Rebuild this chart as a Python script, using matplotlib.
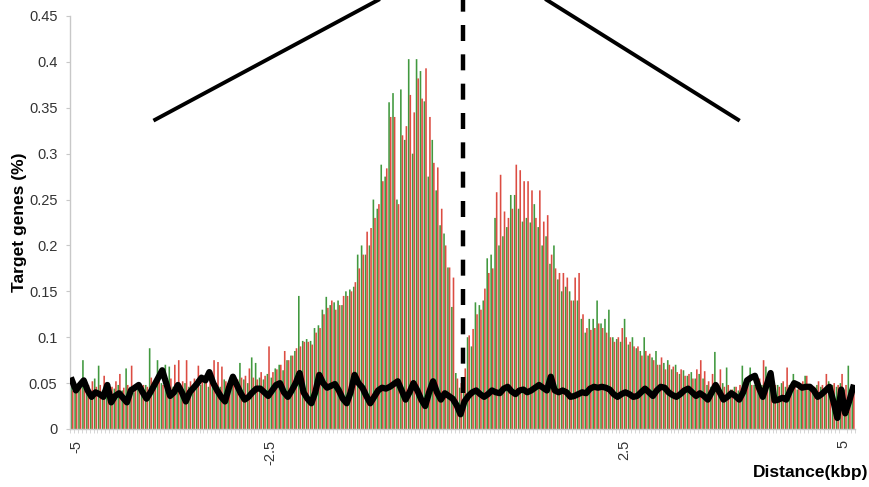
import matplotlib
matplotlib.use('Agg')
import matplotlib.pyplot as plt
import numpy as np

plt.rcParams['font.family'] = ['Liberation Sans', 'DejaVu Sans']

# 200 bins of 50 bp from -5 to +5 kbp
green = [
    .048, .042, .050, .075, .042, .038, .055, .069, .042, .046,
    .040, .044, .048, .042, .066, .046, .040, .050, .044, .048,
    .088, .046, .075, .050, .070, .068, .046, .048, .044, .050,
    .046, .044, .054, .048, .050, .046, .056, .050, .046, .054,
    .050, .056, .048, .072, .054, .050, .078, .072, .056, .054,
    .060, .056, .066, .070, .064, .075, .080, .085, .145, .096,
    .098, .096, .110, .113, .130, .144, .135, .138, .140, .135,
    .150, .152, .155, .190, .200, .190, .200, .250, .240, .288,
    .275, .356, .366, .250, .370, .315, .403, .300, .403, .390,
    .357, .275, .315, .260, .222, .213, .176, .133, .061, .045,
    .050, .100, .090, .138, .135, .140, .186, .190, .230, .200,
    .210, .220, .255, .255, .240, .226, .230, .225, .245, .220,
    .200, .210, .180, .200, .163, .150, .155, .150, .140, .140,
    .120, .105, .120, .120, .140, .115, .120, .130, .100, .098,
    .095, .120, .092, .100, .088, .085, .100, .080, .078, .085,
    .070, .072, .075, .065, .070, .060, .064, .058, .062, .055,
    .060, .055, .048, .046, .084, .048, .050, .067, .043, .046,
    .042, .069, .048, .067, .048, .052, .048, .068, .048, .046,
    .048, .050, .046, .048, .060, .043, .048, .058, .046, .043,
    .048, .046, .043, .052, .048, .046, .050, .043, .069, .048,
]
red = [
    .042, .046, .045, .046, .048, .052, .046, .048, .058, .042,
    .046, .052, .060, .045, .048, .069, .046, .042, .048, .046,
    .056, .052, .056, .048, .052, .055, .070, .075, .052, .075,
    .052, .055, .069, .052, .056, .054, .075, .073, .068, .052,
    .056, .052, .054, .056, .058, .066, .056, .054, .062, .058,
    .090, .062, .065, .070, .085, .075, .080, .088, .090, .095,
    .095, .092, .105, .110, .125, .132, .140, .130, .135, .145,
    .145, .150, .160, .175, .190, .215, .219, .230, .245, .270,
    .284, .340, .340, .245, .320, .330, .364, .345, .382, .360,
    .393, .340, .290, .285, .240, .200, .176, .165, .055, .050,
    .066, .102, .109, .125, .130, .153, .170, .175, .258, .277,
    .237, .230, .240, .288, .282, .270, .270, .260, .230, .260,
    .226, .233, .190, .175, .170, .170, .165, .140, .165, .170,
    .125, .110, .108, .110, .115, .110, .105, .100, .095, .100,
    .110, .100, .095, .090, .090, .080, .085, .082, .075, .070,
    .078, .065, .070, .068, .062, .065, .058, .060, .055, .065,
    .075, .063, .052, .060, .048, .065, .046, .048, .043, .046,
    .048, .050, .052, .048, .046, .055, .075, .048, .052, .048,
    .046, .052, .067, .048, .046, .050, .052, .058, .048, .046,
    .052, .048, .060, .046, .050, .048, .060, .048, .043, .048,
]
background = [
    .053, .042, .048, .053, .042, .035, .040, .038, .035, .048,
    .029, .036, .039, .034, .029, .042, .045, .048, .040, .033,
    .040, .048, .056, .064, .050, .036, .040, .048, .040, .030,
    .040, .045, .050, .056, .053, .062, .050, .042, .035, .030,
    .045, .057, .048, .039, .032, .035, .040, .044, .044, .040,
    .036, .042, .048, .050, .040, .035, .042, .050, .061, .040,
    .033, .028, .040, .059, .050, .045, .047, .049, .042, .033,
    .028, .040, .059, .050, .045, .036, .028, .035, .042, .045,
    .044, .046, .049, .052, .042, .032, .040, .050, .042, .032,
    .025, .040, .052, .040, .032, .039, .036, .033, .026, .016,
    .030, .036, .040, .042, .038, .035, .038, .042, .040, .039,
    .044, .046, .041, .038, .042, .043, .040, .042, .045, .048,
    .045, .042, .057, .042, .040, .042, .040, .035, .036, .038,
    .040, .039, .044, .046, .045, .046, .045, .043, .038, .035,
    .038, .040, .038, .035, .036, .040, .044, .040, .036, .042,
    .046, .045, .040, .037, .035, .038, .042, .044, .040, .036,
    .039, .036, .032, .040, .048, .040, .032, .035, .039, .036,
    .032, .040, .053, .056, .058, .045, .035, .048, .061, .031,
    .032, .034, .032, .042, .050, .048, .045, .046, .046, .042,
    .035, .038, .042, .046, .030, .012, .043, .017, .030, .045,
]

tick_labels = ['-5', '-2.5', '2.5', '5']
tick_bins = [1, 50.5, 140.6, 196.5]   # where the labels sit in the original
center_bin = 99.6

# the two slanted guide lines drawn over the plot (bin, value)
guide_left = ([21.2, 78.0], [0.337, 0.4674])
guide_right = ([121.0, 169.7], [0.4674, 0.337])

fig = plt.figure(figsize=(8.7, 4.87), dpi=100)
ax = fig.add_axes([70/870, 1-429/487, 785/870, 413/487])

idx = np.arange(len(green))
w = 0.41
# snap off so the thin bars blend into the olive look of the original
ax.bar(idx - w/2, green, width=w, color='#41993f', linewidth=0, snap=False)
ax.bar(idx + w/2, red, width=w, color='#dc4c42', linewidth=0, snap=False)

ax.plot(idx, background, color='black', linewidth=4.5, solid_joinstyle='round', zorder=4)

ax.plot([center_bin, center_bin], [0.039, 0.47], color='black', linewidth=3.2,
        linestyle=(0, (3.6, 3.0)), clip_on=False, zorder=5)
ax.plot(*guide_left, color='black', linewidth=2.8, clip_on=False, zorder=5)
ax.plot(*guide_right, color='black', linewidth=2.8, clip_on=False, zorder=5)

ax.set_xlim(-0.5, len(green) - 0.5)
ax.set_ylim(0, 0.45)
ax.set_yticks(np.arange(0, 0.451, 0.05))
ax.set_yticklabels(['0', '0.05', '0.1', '0.15', '0.2', '0.25', '0.3', '0.35', '0.4', '0.45'])
ax.set_xticks(tick_bins)
ax.set_xticklabels(tick_labels, rotation=90)
ax.set_xticks(np.arange(-0.5, len(green), 1), minor=True)

for s in ['top', 'right']:
    ax.spines[s].set_visible(False)
for s in ['left', 'bottom']:
    ax.spines[s].set_color('#c8c8c8')
    ax.spines[s].set_linewidth(1.0)

ax.tick_params(axis='y', length=3, color='#c8c8c8', pad=6, labelsize=10.5, labelcolor='#333333')
ax.tick_params(axis='x', which='major', length=0, pad=8, labelsize=10.5, labelcolor='#333333')
ax.tick_params(axis='x', which='minor', length=3, color='#d0d0d0', width=0.6)

fig.text(20/870, 1-222/487, 'Target genes (%)', rotation=90, fontsize=12.5,
         fontweight='bold', ha='center', va='center')
fig.text(868/870, 1-473/487, 'Distance(kbp)', fontsize=12.5, fontweight='bold',
         ha='right', va='center')

fig.savefig('out.png', dpi=100)
